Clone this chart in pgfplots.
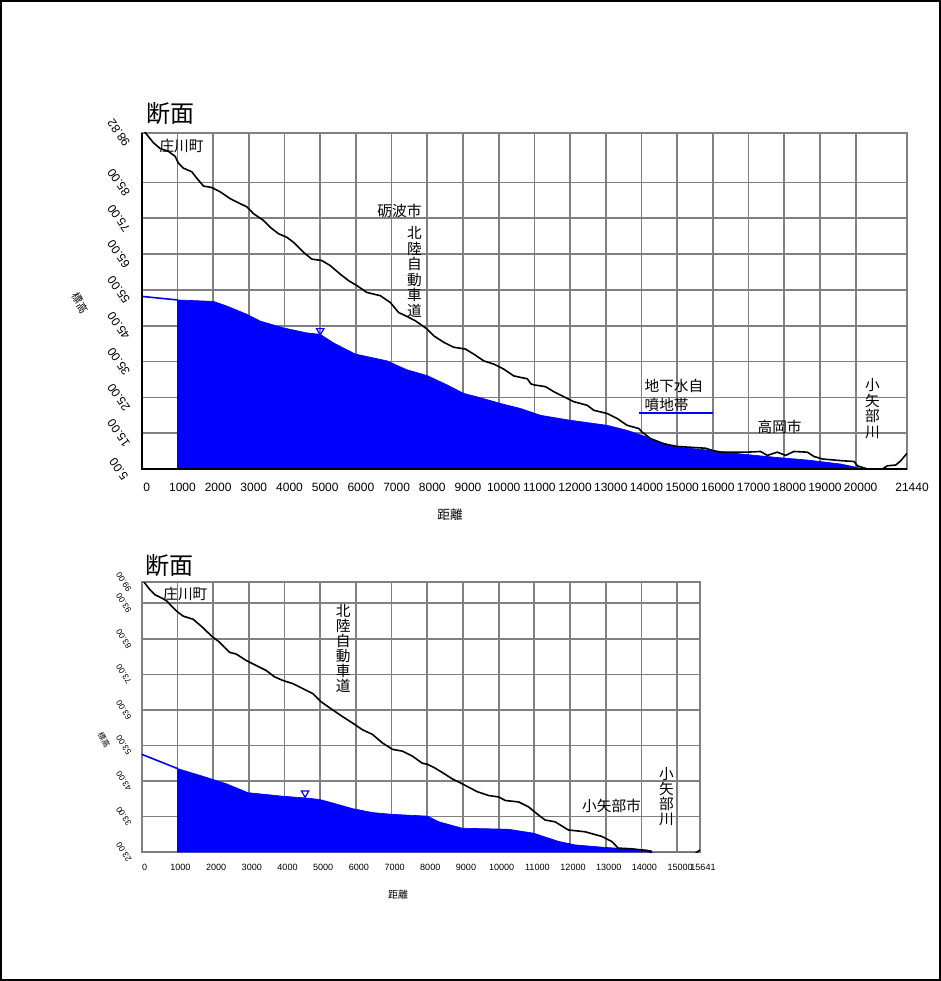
\documentclass[border=0pt]{standalone}
\usepackage{fontspec}
\setmainfont{Liberation Sans}
\newfontfamily\cjk{Noto Sans CJK JP}
\usepackage{pgfplots}
\pgfplotsset{compat=1.18}
\begin{document}
\begin{tikzpicture}
\useasboundingbox (0,0) rectangle (705.75pt,-735.75pt);
\draw[line width=1.3pt] (0.9pt,-0.9pt) rectangle (704.85pt,-734.85pt);
% ---------------- top chart
\begin{axis}[name=top, at={(106.3pt,-351.75pt)}, anchor=south west, scale only axis,
  width=574pt, height=252pt,
  xmin=0, xmax=21440, ymin=5, ymax=98.82,
  scaled x ticks=false, scaled y ticks=false,
  xtick={0,1000,2000,3000,4000,5000,6000,7000,8000,9000,10000,11000,12000,13000,14000,15000,16000,17000,18000,19000,20000,21440},
  xticklabels={0,1000,2000,3000,4000,5000,6000,7000,8000,9000,10000,11000,12000,13000,14000,15000,16000,17000,18000,19000,20000,21440},
  ytick={5,15,25,35,45,55,65,75,85,98.82},
  yticklabels={5.00,15.00,25.00,35.00,45.00,55.00,65.00,75.00,85.00,98.82},
  major tick length=0pt,
  grid=major, major grid style={gray, line width=1.3pt},
  axis line style={gray, line width=1.3pt},
  xticklabel style={font=\fontsize{9}{10}\selectfont, anchor=center, yshift=-13.9pt, xshift=3.75pt},
  yticklabel style={font=\fontsize{9}{10}\selectfont, anchor=center, xshift=-17.25pt, rotate=125},
  /pgf/number format/assume math mode=true,
]
\addplot[blue, line width=1.2pt] coordinates {(0,53.2) (1000,52.2)};
\addplot[fill=blue, draw=blue, line width=0.5pt] coordinates {
(1000,52.2) (2009,51.8) (2383,50.5) (2944,48.2) (3318,46.3) (3972,44.4) (4626,43.0) (5000,42.6)
(5374,40.2) (5981,37.1) (6869,35.2) (7430,32.7) (7991,31.1) (8551,28.5) (9019,26.1) (9486,24.9)
(10047,23.3) (10607,21.9) (11168,20.0) (12009,18.6) (13037,17.2) (13598,15.8) (14159,13.9)
(14533,12.5) (15000,11.1) (15935,10.2) (16776,9.2) (17710,8.3) (18645,7.5) (19579,6.4) (20234,5.0)
} \closedcycle;
\addplot[black, line width=1.2pt] coordinates {
(0,100.2) (140,98.4) (327,96.1) (514,94.5) (748,93.7) (935,92.3) (1028,90.4) (1168,89) (1402,88)
(1542,86.2) (1729,84) (1963,83.6) (2196,82.4) (2477,80.5) (2757,79.1) (2944,78.2) (3131,76.3)
(3411,74.4) (3598,72.5) (3832,70.7) (4065,69.7) (4252,68.3) (4533,65.5) (4766,63.6) (5047,63.2)
(5280,61.8) (5561,59.4) (5794,57.6) (6028,56.2) (6308,54.3) (6682,53.4) (6963,51.5) (7196,48.7)
(7430,47.6) (7664,46.4) (7991,44.1) (8178,42.2) (8458,40.4) (8738,39) (9065,38.5) (9299,37.1)
(9579,35.2) (9860,34.3) (10140,32.9) (10421,31.0) (10600,30.6) (10800,30.2) (10900,28.8)
(10981,28.5) (11308,28.0) (11542,26.6) (11822,25.2) (12103,23.8) (12477,22.8) (12664,21.4)
(13037,20.5) (13318,19.1) (13598,17.2) (13925,16.3) (14019,15.3) (14252,13.5) (14626,12.0)
(15000,11.3) (15794,10.8) (15981,10.2) (16215,9.7) (16963,9.7) (17336,9.9) (17523,8.8)
(17804,9.7) (18037,8.8) (18271,9.9) (18645,9.7) (18832,8.5) (19065,7.8) (19626,7.3) (19953,7.1)
(20047,5.9) (20327,5.0) (20748,5.0) (20888,5.9) (21121,6.1) (21262,7.3) (21440,9.4)
};
\addplot[blue, line width=1.1pt] coordinates {(13940,20.6) (16000,20.6)};
\addplot[only marks, mark=triangle, mark size=3.2pt, mark options={rotate=180, draw=blue, fill=white, line width=0.9pt}] coordinates {(5000,43.6)};
\begin{scope}[font=\cjk\fontsize{11}{11.6}\selectfont]
\node[inner sep=0] at (axis cs:1115,95.1) {庄川町};
\node[inner sep=0] at (axis cs:7220,77) {砺波市};
\node[inner sep=0, align=center] at (axis cs:7640,60) {北\\陸\\自\\動\\車\\道};
\node[inner sep=0, anchor=west] at (axis cs:14080,28.3) {地下水自};
\node[inner sep=0, anchor=west] at (axis cs:14080,22.8) {噴地帯};
\node[inner sep=0] at (axis cs:17870,16.8) {高岡市};
\node[inner sep=0, align=center] at (axis cs:20470,21.9) {小\\矢\\部\\川};
\end{scope}
\end{axis}
\draw[black, line width=1.6pt] (top.north west) -- (top.south west) -- (top.south east);
% ---------------- bottom chart
\begin{axis}[name=bot, at={(106.3pt,-639pt)}, anchor=south west, scale only axis,
  width=418.7pt, height=202.5pt,
  xmin=0, xmax=15641, ymin=23, ymax=99,
  scaled x ticks=false, scaled y ticks=false,
  xtick={0,1000,2000,3000,4000,5000,6000,7000,8000,9000,10000,11000,12000,13000,14000,15000,15641},
  xticklabels={0,1000,2000,3000,4000,5000,6000,7000,8000,9000,10000,11000,12000,13000,14000,15000,15641},
  ytick={23,33,43,53,63,73,83,93,99},
  yticklabels={23.00,33.00,43.00,53.00,63.00,73.00,83.00,93.00,99.00},
  major tick length=0pt,
  grid=major, major grid style={gray, line width=1.3pt},
  axis line style={gray, line width=1.3pt},
  xticklabel style={font=\fontsize{6.8}{8}\selectfont, anchor=center, yshift=-11.25pt, xshift=2.25pt},
  yticklabel style={font=\fontsize{6.3}{7}\selectfont, anchor=center, xshift=-13.5pt, rotate=122},
  /pgf/number format/assume math mode=true,
]
\addplot[blue, line width=1.2pt] coordinates {(0,50.5) (1000,46.5)};
\addplot[fill=blue, draw=blue, line width=0.5pt] coordinates {
(1000,46.5) (1814,44.0) (2372,42.2) (2977,39.7) (3953,38.7) (4605,38.2) (4977,37.8) (5349,36.8)
(5907,35.2) (6465,34.1) (7023,33.6) (8000,33.1) (8326,31.5) (8977,29.7) (10279,29.4) (10977,28.3)
(11674,26.0) (12140,25.0) (12977,24.3) (13721,23.8) (14279,23.4) (14300,23)
} \closedcycle;
\addplot[black, line width=1.2pt] coordinates {
(0,100) (93,98.6) (233,96.8) (372,95.4) (558,94.5) (698,93.7) (837,92.2) (977,90.8) (1163,89.4)
(1442,88.5) (1721,86.1) (1953,83.8) (2186,82.0) (2465,79.2) (2651,78.7) (2930,76.9) (3209,75.5)
(3488,74.1) (3721,72.3) (3953,71.3) (4233,70.4) (4512,69.0) (4791,67.6) (5023,65.3) (5349,63.0)
(5628,61.1) (5907,59.3) (6186,57.4) (6465,56.1) (6744,53.7) (7023,51.9) (7302,51.4) (7581,50.0)
(7860,48.0) (8000,47.7) (8186,46.8) (8419,45.4) (8698,43.6) (8977,42.2) (9395,40.0) (9721,38.9)
(10000,38.5) (10186,37.5) (10558,37.1) (10837,35.7) (11116,33.4) (11302,32.0) (11581,31.5)
(11953,29.2) (12419,28.7) (12884,27.4) (13163,26.0) (13349,24.1) (13721,23.9) (14186,23.4)
(14300,22.5) (15500,22.5) (15641,23.6)
};
\addplot[only marks, mark=triangle, mark size=3.2pt, mark options={rotate=180, draw=blue, fill=white, line width=0.9pt}] coordinates {(4577,39.6)};
\begin{scope}[font=\cjk\fontsize{11}{11.3}\selectfont]
\node[inner sep=0] at (axis cs:1222,95.6) {庄川町};
\node[inner sep=0, align=center] at (axis cs:5643,80.2) {北\\陸\\自\\動\\車\\道};
\node[inner sep=0] at (axis cs:13163,36.1) {小矢部市};
\node[inner sep=0, align=center] at (axis cs:14698,38.6) {小\\矢\\部\\川};
\end{scope}
\end{axis}
% ---------------- titles and labels
\node[font=\cjk\fontsize{18}{20}\selectfont, inner sep=0] at (127.5pt,-85.5pt) {断面};
\node[font=\cjk\fontsize{18}{20}\selectfont, inner sep=0] at (126.75pt,-424.5pt) {断面};
\node[font=\cjk\fontsize{9.5}{10}\selectfont, inner sep=0] at (337.5pt,-386.25pt) {距離};
\node[font=\cjk\fontsize{7.5}{8}\selectfont, inner sep=0] at (298.5pt,-671.25pt) {距離};
\node[font=\cjk\fontsize{8}{9}\selectfont, inner sep=0, rotate=-60] at (60pt,-227.25pt) {標高};
\node[font=\cjk\fontsize{6}{7}\selectfont, inner sep=0, rotate=-60] at (78pt,-555pt) {標高};
\end{tikzpicture}
\end{document}
